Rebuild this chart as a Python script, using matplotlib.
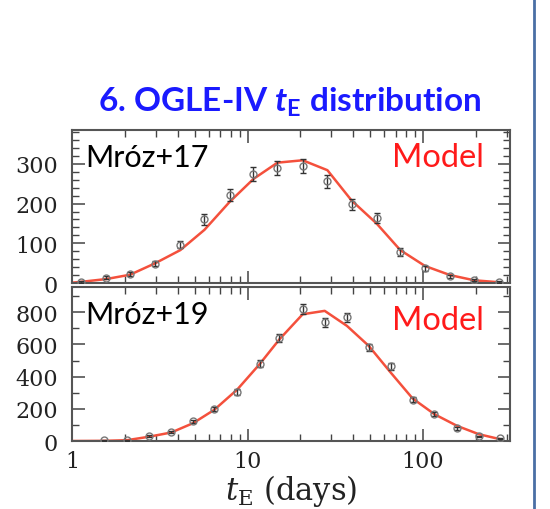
import matplotlib.pyplot as plt
import numpy as np
from matplotlib.ticker import FuncFormatter, MultipleLocator, NullFormatter
from matplotlib.lines import Line2D

plt.rcParams['mathtext.it'] = 'Lato:italic:bold'
plt.rcParams['mathtext.bf'] = 'Lato:bold'
plt.rcParams['mathtext.rm'] = 'Lato:bold'

# Mroz+17: t_E bin centres (days), counts, errors
t17 = [1.12, 1.56, 2.14, 2.98, 4.14, 5.68, 7.89, 10.8, 14.8, 20.6,
       28.5, 39.1, 54.3, 74.1, 102.5, 142.6, 195.4, 271.6]
n17 = [3, 13, 24, 49, 97, 160, 221, 274, 289, 295,
       256, 198, 163, 78, 37, 17, 7, 3]
e17 = [2, 4, 5, 7, 10, 13, 15, 17, 17, 17,
       16, 14, 13, 9, 6, 4, 3, 2]
# model curve for Mroz+17
mt17 = [1.0, 1.12, 1.56, 2.14, 2.98, 4.14, 5.68, 7.89, 10.8, 14.8, 20.6,
        28.5, 39.1, 54.3, 74.1, 102.5, 142.6, 195.4, 271.6]
m17 = [1, 3, 10, 21, 50, 83, 134, 204, 262, 303, 309,
       284, 208, 150, 83, 43, 20, 7, 2]

# Mroz+19
t19 = [1.53, 2.05, 2.73, 3.68, 4.90, 6.47, 8.73, 11.7, 15.2, 20.6,
       27.5, 36.8, 49.0, 65.3, 87.1, 116.1, 156.0, 208.0, 275.4]
n19 = [6, 6, 33, 58, 122, 198, 306, 481, 640, 819,
       736, 767, 581, 463, 256, 167, 79, 29, 17]
e19 = [3, 3, 6, 8, 11, 14, 17, 22, 25, 29,
       27, 28, 24, 22, 16, 13, 9, 5, 4]
mt19 = [1.0, 1.53, 2.05, 2.73, 3.68, 4.90, 6.47, 8.73, 11.7, 15.2, 20.6,
        27.5, 36.8, 49.0, 65.3, 87.1, 116.1, 156.0, 208.0, 275.4]
m19 = [1, 2, 6, 27, 54, 112, 195, 320, 477, 632, 787,
       808, 715, 591, 426, 265, 167, 95, 43, 12]

fig = plt.figure(figsize=(5.5, 5.1), dpi=100)
ax1 = fig.add_axes([0.131, 0.443, 0.796, 0.300])
ax2 = fig.add_axes([0.131, 0.133, 0.796, 0.302])

red = '#f4503c'
sans = ['Lato', 'DejaVu Sans']
serif = 'DejaVu Serif'


def style(ax):
    ax.set_xscale('log')
    ax.set_xlim(1, 312)
    ax.tick_params(which='both', direction='in', top=True, right=True,
                   color='#444444', labelsize=16, labelfontfamily=serif,
                   labelcolor='#222222')
    ax.tick_params(which='major', length=9, width=1.1)
    ax.tick_params(which='minor', length=5, width=1.0)
    ax.tick_params(axis='y', pad=10)
    ax.tick_params(axis='x', pad=6)
    for s in ax.spines.values():
        s.set_color('#555555')
        s.set_linewidth(1.5)
    ax.xaxis.set_major_formatter(FuncFormatter(lambda v, p: '%d' % round(v)))
    ax.xaxis.set_minor_formatter(NullFormatter())
    ax.yaxis.set_major_formatter(FuncFormatter(lambda v, p: '%d' % round(v)))


panels = [
    (ax1, t17, n17, e17, mt17, m17, 385, 100, 20, 'Mróz+17', 0.765),
    (ax2, t19, n19, e19, mt19, m19, 955, 200, 100, 'Mróz+19', 0.727),
]
for ax, t, n, e, mt, m, ymax, maj, mnr, lab, my in panels:
    ax.plot(mt, m, color=red, lw=1.8, zorder=2)
    ax.errorbar(t, n, yerr=e, fmt='o', ms=5, mfc='none', mec='#777777',
                mew=1.0, ecolor='#333333', elinewidth=1.0, capsize=2.5,
                capthick=1.0, zorder=3)
    style(ax)
    ax.set_ylim(0, ymax)
    ax.yaxis.set_major_locator(MultipleLocator(maj))
    ax.yaxis.set_minor_locator(MultipleLocator(mnr))
    ax.text(0.03, 0.765, lab, transform=ax.transAxes, fontsize=22,
            family=sans, color='black', va='baseline', ha='left')
    ax.text(0.94, my, 'Model', transform=ax.transAxes, fontsize=23.5,
            family=sans, color='#ff1a1a', va='baseline', ha='right')

ax1.tick_params(labelbottom=False)
ax2.set_xlabel(r'$t_{\rm E}$ (days)', fontsize=22, family=serif,
               math_fontfamily='dejavuserif', labelpad=0, color='#222222')

fig.text(0.527, 0.78, r'6. OGLE-IV $\mathit{t}_{\mathbf{E}}$ distribution',
         ha='center', va='baseline', fontsize=24, color='#1a1aff',
         family=sans, fontweight='bold', math_fontfamily='custom')

fig.add_artist(Line2D([534 / 550, 534 / 550], [0, 1], color='#4a6fa5', lw=2,
                      transform=fig.transFigure))

fig.savefig('out.png', dpi=100)
